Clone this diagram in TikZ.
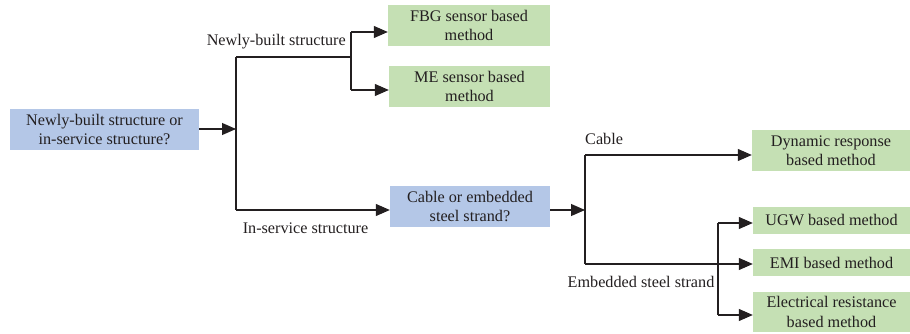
\documentclass[tikz,border=0pt]{standalone}
\usepackage{fontspec}
\setmainfont{Liberation Serif}
\usetikzlibrary{arrows.meta}
\definecolor{bluefill}{HTML}{B4C7E7}
\definecolor{greenfill}{HTML}{C5E0B4}
\definecolor{ink}{HTML}{231F20}
\begin{document}
\begin{tikzpicture}[x=1pt,y=-1pt,
  every node/.style={text=ink, font=\fontsize{16.2}{19.5}\selectfont},
  qbox/.style={fill=bluefill, draw=none, align=center, inner sep=0pt},
  mbox/.style={fill=greenfill, draw=none, align=center, inner sep=0pt},
  wire/.style={draw=ink, line width=1.1pt},
  arr/.style={wire, -{Triangle[length=14pt,width=12pt]}},
  lbl/.style={inner sep=0pt}
]
\useasboundingbox (0,0) rectangle (910,334);
% boxes
\node[qbox, minimum width=189pt, minimum height=41pt] (q1) at (104.5,129.5) {Newly-built structure or\\in-service structure?};
\node[mbox, minimum width=162pt, minimum height=41pt] (fbg) at (469,25.5) {FBG sensor based\\method};
\node[mbox, minimum width=161pt, minimum height=41pt] (me) at (469.5,86.5) {ME sensor based\\method};
\node[qbox, minimum width=160pt, minimum height=41pt] (cab) at (470,206.5) {Cable or embedded\\steel strand?};
\node[mbox, minimum width=158pt, minimum height=41pt] (dyn) at (831,150.5) {Dynamic response\\based method};
\node[mbox, minimum width=157pt, minimum height=27pt] (ugw) at (831.5,220.5) {UGW based method};
\node[mbox, minimum width=157pt, minimum height=27pt] (emi) at (831.5,262.5) {EMI based method};
\node[mbox, minimum width=157pt, minimum height=40pt] (ele) at (831.5,312) {Electrical resistance\\based method};
% junction coordinates
\coordinate (j1) at (236,129);
\coordinate (a1) at (236,57);
\coordinate (a2) at (236,210);
\coordinate (b0) at (351,57);
\coordinate (b1) at (351,32);
\coordinate (b2) at (351,90);
\coordinate (c0) at (585,210);
\coordinate (c1) at (585,155);
\coordinate (c2) at (585,264);
\coordinate (d1) at (718,223);
\coordinate (d2) at (718,315);
% connectors
\draw[arr] (q1.east |- j1) -- (j1);
\draw[wire] (a1) -- (a2);
\draw[wire] (a1) -- (b0);
\draw[wire] (b1) -- (b2);
\draw[arr] (b1) -- (fbg.west |- b1);
\draw[arr] (b2) -- (me.west |- b2);
\draw[arr] (a2) -- (cab.west |- a2);
\draw[arr] (cab.east |- c0) -- (c0);
\draw[wire] (c1) -- (c2);
\draw[arr] (c1) -- (dyn.west |- c1);
\draw[arr] (c2) -- (emi.west |- c2);
\draw[wire] (d1) -- (d2);
\draw[arr] (d1) -- (ugw.west |- d1);
\draw[arr] (d2) -- (ele.west |- d2);
% labels
\node[lbl, anchor=east] (l1) at (346,42) {Newly-built structure};
\node[lbl] (l2) at (305.5,228) {In-service structure};
\node[lbl, anchor=west] (l3) at (585,139) {Cable};
\node[lbl] (l4) at (641,282) {Embedded steel strand};
\end{tikzpicture}
\end{document}
